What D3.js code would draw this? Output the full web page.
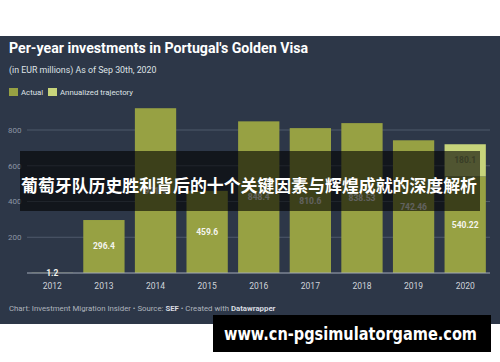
<!DOCTYPE html>
<html>
<head>
<meta charset="utf-8">
<script src="https://cdn.jsdelivr.net/npm/d3@7"></script>
<style>
  body { margin: 0; background: #fff; }
  svg { display: block; font-family: Roboto, "Noto Sans", sans-serif; }
</style>
</head>
<body>
<svg id="chart" width="500" height="362"></svg>
<script>
// data
const years = ["2012", "2013", "2014", "2015", "2016", "2017", "2018", "2019", "2020"]
const actual = [1.2, 296.4, 921.9, 459.6, 848.4, 810.6, 838.53, 742.46, 540.22]
const annualized = [0, 0, 0, 0, 0, 0, 0, 0, 180.1]
const yTicks = [200, 400, 600, 800]

const svg = d3.select("#chart"),
    width = +svg.attr("width"),
    height = +svg.attr("height");

// dark panel
svg.append("rect")
    .attr("x", 0).attr("y", 36)
    .attr("width", width).attr("height", 288)
    .attr("fill", "#2d3748")

const x = d3.scaleBand()
    .domain(years)
    .range([26.5, 491])
    .paddingInner(0.2)
    .paddingOuter(0.1)

const y = d3.scaleLinear()
    .domain([0, 800])
    .range([273, 130])

// gridlines + y labels
const grid = svg.append("g")
grid.selectAll("line")
  .data(yTicks)
  .join("line")
    .attr("x1", 27).attr("x2", 490)
    .attr("y1", d => y(d)).attr("y2", d => y(d))
    .attr("stroke", "#4f5a6b")
    .attr("stroke-width", 1)
grid.selectAll("text")
  .data(yTicks)
  .join("text")
    .attr("x", 8)
    .attr("y", d => y(d))
    .attr("dy", "0.35em")
    .text(d => d)
    .style("font-size", "8px")
    .attr("fill", "#8c95a3")

const rows = years.map((yr, i) => ({year: yr, a: actual[i], b: annualized[i]}))

// actual bars
svg.append("g")
  .selectAll("rect")
  .data(rows)
  .join("rect")
    .attr("x", d => x(d.year))
    .attr("width", x.bandwidth())
    .attr("y", d => y(d.a))
    .attr("height", d => y(0) - y(d.a))
    .attr("fill", "#97a143")

// annualized trajectory stacked on top
svg.append("g")
  .selectAll("rect")
  .data(rows.filter(d => d.b > 0))
  .join("rect")
    .attr("x", d => x(d.year))
    .attr("width", x.bandwidth())
    .attr("y", d => y(d.a + d.b))
    .attr("height", d => y(d.a) - y(d.a + d.b))
    .attr("fill", "#c7d47b")

// baseline
svg.append("line")
    .attr("x1", 27).attr("x2", 490)
    .attr("y1", y(0)).attr("y2", y(0))
    .attr("stroke", "#a3abb7")
    .attr("stroke-width", 1)

// value labels
svg.append("g")
  .selectAll("text")
  .data(rows)
  .join("text")
    .attr("x", d => x(d.year) + x.bandwidth() / 2)
    .attr("y", d => y(d.a / 2))
    .attr("dy", "0.35em")
    .attr("text-anchor", "middle")
    .text(d => d.a)
    .style("font-size", "8.5px")
    .style("font-weight", "bold")
    .attr("fill", "#f4f4ee")
svg.append("g")
  .selectAll("text")
  .data(rows.filter(d => d.b > 0))
  .join("text")
    .attr("x", d => x(d.year) + x.bandwidth() / 2)
    .attr("y", d => y(d.a + d.b / 2))
    .attr("dy", "0.35em")
    .attr("text-anchor", "middle")
    .text(d => d.b)
    .style("font-size", "8.5px")
    .style("font-weight", "bold")
    .attr("fill", "#8f9a60")

// x axis labels
svg.append("g")
  .selectAll("text")
  .data(years)
  .join("text")
    .attr("x", d => x(d) + x.bandwidth() / 2)
    .attr("y", 288.5)
    .attr("text-anchor", "middle")
    .text(d => d)
    .style("font-size", "8.5px")
    .attr("fill", "#d0d4da")

// title, subtitle
svg.append("text")
    .attr("x", 9).attr("y", 53)
    .text("Per-year investments in Portugal's Golden Visa")
    .attr("textLength", 299)
    .attr("lengthAdjust", "spacingAndGlyphs")
    .style("font-size", "15px")
    .style("font-weight", "bold")
    .attr("fill", "#ffffff")
svg.append("text")
    .attr("x", 9).attr("y", 73)
    .text("(in EUR millions) As of Sep 30th, 2020")
    .style("font-size", "8.8px")
    .attr("fill", "#dfe2e6")

// legend
const legend = [["Actual", "#97a143", 9], ["Annualized trajectory", "#c7d47b", 48]]
legend.forEach(l => {
  svg.append("rect")
      .attr("x", l[2]).attr("y", 88)
      .attr("width", 9).attr("height", 8)
      .attr("fill", l[1])
  svg.append("text")
      .attr("x", l[2] + 12).attr("y", 95)
      .text(l[0])
      .style("font-size", "7.8px")
      .attr("fill", "#dfe2e6")
})

// footer
const foot = svg.append("text")
    .attr("x", 9).attr("y", 311)
    .style("font-size", "7.8px")
    .attr("fill", "#aeb4bd")
foot.append("tspan").text("Chart: Investment Migration Insider • Source: ")
foot.append("tspan").text("SEF").style("font-weight", "bold").attr("fill", "#d8dbe0")
foot.append("tspan").text(" • Created with ")
foot.append("tspan").text("Datawrapper").style("font-weight", "bold").attr("fill", "#d8dbe0")

// overlay banner
svg.append("rect")
    .attr("x", 20).attr("y", 151)
    .attr("width", 460).attr("height", 60)
    .attr("fill", "#000")
    .attr("fill-opacity", 0.6)
svg.append("text")
    .attr("x", 21).attr("y", 192)
    .text("葡萄牙队历史胜利背后的十个关键因素与辉煌成就的深度解析")
    .attr("textLength", 456)
    .attr("lengthAdjust", "spacingAndGlyphs")
    .style("font-family", "'Noto Sans CJK SC', sans-serif")
    .style("font-size", "17.5px")
    .style("font-weight", "bold")
    .attr("fill", "#ffffff")

// watermark
svg.append("rect")
    .attr("x", 213).attr("y", 315)
    .attr("width", 278).attr("height", 37)
    .attr("fill", "#000")
svg.append("text")
    .attr("x", 224).attr("y", 340)
    .text("www.cn-pgsimulatorgame.com")
    .attr("textLength", 253)
    .attr("lengthAdjust", "spacingAndGlyphs")
    .style("font-family", "'DejaVu Sans', sans-serif")
    .style("font-size", "17px")
    .style("font-weight", "bold")
    .attr("fill", "#ffffff")
</script>
</body>
</html>
